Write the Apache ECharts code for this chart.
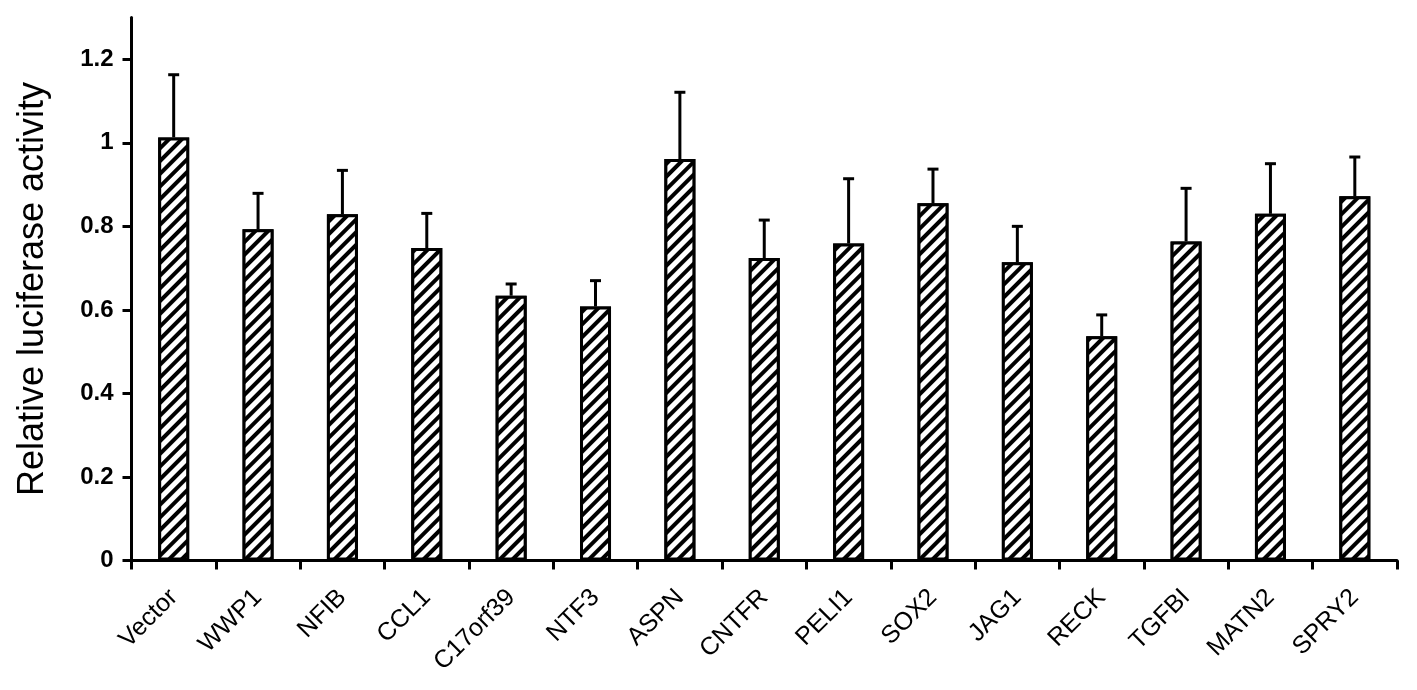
<!DOCTYPE html>
<html>
<head>
<meta charset="utf-8">
<script src="https://cdn.jsdelivr.net/npm/echarts@6/dist/echarts.min.js"></script>
<style>
html,body{margin:0;padding:0;background:#fff;}
#chart{width:1417px;height:690px;}
</style>
</head>
<body>
<div id="chart"></div>
<script>
const categories = ['Vector','WWP1','NFIB','CCL1','C17orf39','NTF3','ASPN','CNTFR','PELI1','SOX2','JAG1','RECK','TGFBI','MATN2','SPRY2'];
const means  = [1.013, 0.793, 0.829, 0.748, 0.634, 0.608, 0.961, 0.724, 0.759, 0.855, 0.714, 0.537, 0.764, 0.830, 0.872];
const errors = [0.150, 0.086, 0.105, 0.083, 0.028, 0.062, 0.160, 0.091, 0.155, 0.082, 0.086, 0.051, 0.127, 0.120, 0.094];
const yTicks = [0, 0.2, 0.4, 0.6, 0.8, 1, 1.2];
const yTitle = 'Relative luciferase activity';

const chart = echarts.init(document.getElementById('chart'), null, {renderer:'canvas'});
const axisStyle = {color:'#000', width:3};
const font = 'Liberation Sans, Arial, sans-serif';
const option = {
  animation:false,
  backgroundColor:'#fff',
  grid:{left:131.5, right:20, top:17.5, bottom:129.5, containLabel:false},
  xAxis:{
    type:'category',
    data:categories,
    axisLine:{show:true, lineStyle:axisStyle},
    axisTick:{show:true, length:9, inside:false, lineStyle:axisStyle},
    axisLabel:{rotate:45, interval:0, margin:33, fontSize:25, fontFamily:font, color:'#000'},
    splitLine:{show:false}
  },
  yAxis:{
    type:'value',
    min:0, max:1.3,
    name:yTitle,
    nameLocation:'middle',
    nameGap:80,
    nameTextStyle:{fontSize:36, fontFamily:font, color:'#000'},
    axisLine:{show:true, lineStyle:axisStyle},
    axisTick:{show:true, length:9, lineStyle:axisStyle, customValues:yTicks},
    axisLabel:{customValues:yTicks, fontSize:24, fontWeight:'bold', margin:18, fontFamily:font, color:'#000'},
    splitLine:{show:false}
  },
  series:[
    {
      type:'bar',
      data:means,
      barWidth:31,
      itemStyle:{
        color:'#fff',
        borderColor:'#000',
        borderWidth:3,
        decal:{symbol:'rect', symbolSize:1, dashArrayX:[1,0], dashArrayY:[4,5], rotation:-Math.PI/4, color:'#000', backgroundColor:'#fff'}
      },
      z:2
    },
    {
      type:'custom',
      z:3,
      data:categories.map((c,i)=>[i, means[i], errors[i]]),
      encode:{x:0, y:1},
      renderItem:function(params, api){
        const i = api.value(0), m = api.value(1), e = api.value(2);
        const b = api.coord([i, m]);
        const t = api.coord([i, m + e]);
        return {type:'group', children:[
          {type:'line', shape:{x1:b[0], y1:b[1], x2:t[0], y2:t[1]}, style:{stroke:'#000', lineWidth:3}},
          {type:'line', shape:{x1:t[0]-5.5, y1:t[1], x2:t[0]+5.5, y2:t[1]}, style:{stroke:'#000', lineWidth:3}}
        ]};
      }
    }
  ]
};
chart.setOption(option);
</script>
</body>
</html>
